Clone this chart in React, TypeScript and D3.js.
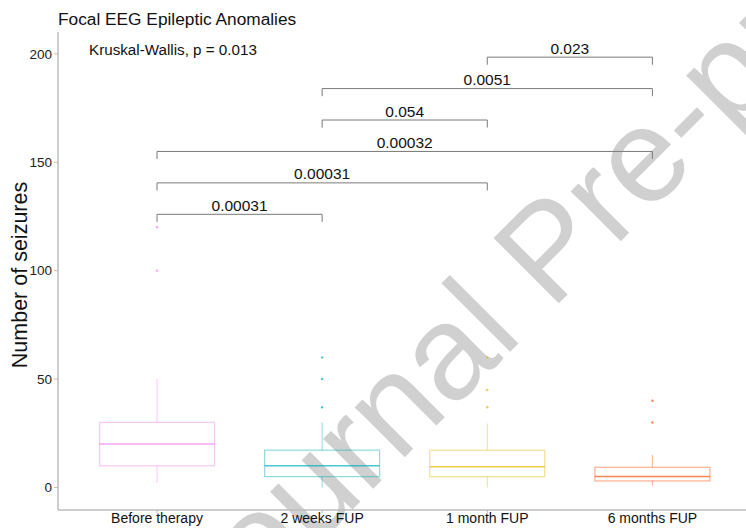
import React from "react";
import * as d3 from "d3";

// Groups and their boxplot summaries (number of seizures)
const categories = ["Before therapy", "2 weeks FUP", "1 month FUP", "6 months FUP"];
const lowerWhisker = [2, 0, 0, 1];
const q1 = [10, 5, 5, 3];
const medians = [20, 10, 9.5, 5];
const q3 = [30, 17.2, 17.2, 9.3];
const upperWhisker = [50, 30, 29.5, 15];
const outliers = [[100, 120], [37, 50, 60], [37, 45, 60], [30, 40]];
const groupColors = ["#EE82EE", "#00AFBB", "#E7B800", "#FC4E07"];

// Pairwise comparisons (Wilcoxon p-values) with bracket heights
const pairFrom = ["Before therapy", "Before therapy", "Before therapy", "2 weeks FUP", "2 weeks FUP", "1 month FUP"];
const pairTo = ["2 weeks FUP", "1 month FUP", "6 months FUP", "1 month FUP", "6 months FUP", "6 months FUP"];
const pairY = [126, 140.5, 155, 169.5, 184, 198.5];
const pairLabels = ["0.00031", "0.00031", "0.00032", "0.054", "0.0051", "0.023"];

const yTicks = [0, 50, 100, 150, 200];

const W = 746;
const H = 528;
const FONT = "'Liberation Sans', Arial, sans-serif";

export default function App() {
  const x = d3.scalePoint<string>().domain(categories).range([157, 652.4]);
  const y = d3.scaleLinear().domain([-10.4, 210.1]).range([510, 32]);
  const boxW = 115;
  const tip = 3.5;

  return (
    <svg
      width={W}
      height={H}
      style={{ position: "absolute", left: 0, top: 0, background: "#fff" }}
      fontFamily={FONT}
    >
      <rect width={W} height={H} fill="#fff" />
      {/* watermark */}
      <text
        transform="translate(214,648) rotate(-45)"
        fontSize={134}
        fill="#d0d0d0"
      >
        Journal Pre-proof
      </text>

      {/* axes */}
      <line x1={58} x2={58} y1={32} y2={510} stroke="#bdbdbd" strokeWidth={1.5} />
      <line x1={58} x2={W} y1={510} y2={510} stroke="#bdbdbd" strokeWidth={1.5} />
      {yTicks.map((t) => (
        <g key={t}>
          <line x1={54} x2={58} y1={y(t)} y2={y(t)} stroke="#bdbdbd" />
          <text x={52} y={y(t)} dy="0.35em" textAnchor="end" fontSize={13.5} fill="#222">
            {t}
          </text>
        </g>
      ))}
      {categories.map((c) => (
        <g key={c}>
          <line x1={x(c)} x2={x(c)} y1={510} y2={513} stroke="#bdbdbd" />
          <text x={x(c)} y={523} textAnchor="middle" fontSize={14} fill="#111">
            {c}
          </text>
        </g>
      ))}
      <text
        transform={`translate(27,275) rotate(-90)`}
        textAnchor="middle"
        fontSize={21.5}
        fill="#111"
      >
        Number of seizures
      </text>

      {/* boxplots */}
      {categories.map((c, i) => {
        const cx = x(c) as number;
        const col = groupColors[i];
        return (
          <g key={c}>
            <line x1={cx} x2={cx} y1={y(q3[i])} y2={y(upperWhisker[i])} stroke={col} strokeOpacity={0.45} />
            <line x1={cx} x2={cx} y1={y(q1[i])} y2={y(lowerWhisker[i])} stroke={col} strokeOpacity={0.45} />
            <rect
              x={cx - boxW / 2}
              y={y(q3[i])}
              width={boxW}
              height={y(q1[i]) - y(q3[i])}
              fill="none"
              stroke={col}
              strokeOpacity={0.45}
              strokeWidth={1.2}
            />
            <line
              x1={cx - boxW / 2}
              x2={cx + boxW / 2}
              y1={y(medians[i])}
              y2={y(medians[i])}
              stroke={col}
              strokeOpacity={0.7}
              strokeWidth={1.5}
            />
            {outliers[i].map((o, k) => (
              <circle key={k} cx={cx} cy={y(o)} r={1.2} fill={col} fillOpacity={0.7} />
            ))}
          </g>
        );
      })}

      {/* comparison brackets */}
      {pairFrom.map((a, i) => {
        const x1 = x(a) as number;
        const x2 = x(pairTo[i]) as number;
        const yy = y(pairY[i]);
        const yt = y(pairY[i] - tip);
        return (
          <g key={i}>
            <path
              d={`M${x1},${yt}L${x1},${yy}L${x2},${yy}L${x2},${yt}`}
              fill="none"
              stroke="#7a7a7a"
              strokeWidth={1}
            />
            <text x={(x1 + x2) / 2} y={yy - 3.5} textAnchor="middle" fontSize={15.5} fill="#111">
              {pairLabels[i]}
            </text>
          </g>
        );
      })}

      <text x={89} y={55} fontSize={15.2} fill="#111">
        Kruskal-Wallis, p = 0.013
      </text>
      <text x={58} y={25} fontSize={17.3} fill="#111">
        Focal EEG Epileptic Anomalies
      </text>
    </svg>
  );
}
